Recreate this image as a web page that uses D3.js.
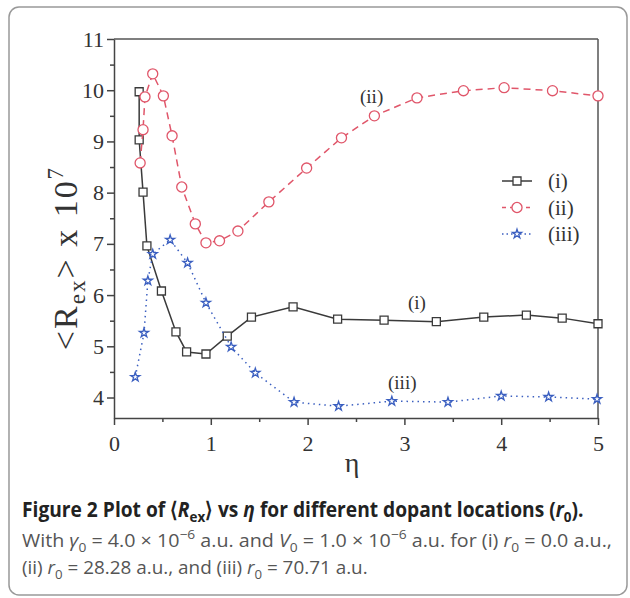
<!DOCTYPE html><html><head><meta charset="UTF-8"><script src="https://d3js.org/d3.v7.min.js"></script><style>
body { margin: 0; background: #fff; }
svg { display: block; }
.axis text { font-family: "Liberation Serif", "DejaVu Serif", serif; font-size: 22px; fill: #333; }
.axis path, .axis line { stroke: #444; stroke-width: 1.5px; }
.serif { font-family: "Liberation Serif", "DejaVu Serif", serif; fill: #333; }
.cap { font-family: "Open Sans", "Noto Sans", sans-serif; }
</style></head><body><div id="chart"></div><script>
// values
const etaI = [0.26, 0.26, 0.30, 0.34, 0.49, 0.64, 0.75, 0.95, 1.17, 1.42, 1.85, 2.31, 2.79, 3.33, 3.82, 4.26, 4.63, 5.0];
const rexI = [9.97, 9.03, 8.01, 6.96, 6.08, 5.28, 4.89, 4.85, 5.20, 5.57, 5.77, 5.53, 5.51, 5.48, 5.57, 5.61, 5.55, 5.44];
const etaII = [0.27, 0.30, 0.32, 0.40, 0.51, 0.60, 0.70, 0.84, 0.95, 1.09, 1.28, 1.60, 1.99, 2.35, 2.69, 3.13, 3.61, 4.03, 4.53, 5.0];
const rexII = [8.58, 9.23, 9.87, 10.32, 9.89, 9.11, 8.11, 7.39, 7.02, 7.06, 7.25, 7.82, 8.48, 9.07, 9.50, 9.85, 9.99, 10.05, 9.99, 9.89];
const etaIII = [0.22, 0.31, 0.35, 0.40, 0.58, 0.76, 0.95, 1.21, 1.46, 1.86, 2.32, 2.87, 3.45, 4.0, 4.49, 4.99];
const rexIII = [4.40, 5.26, 6.28, 6.80, 7.08, 6.63, 5.85, 4.99, 4.48, 3.91, 3.83, 3.93, 3.91, 4.03, 4.01, 3.97];
const seriesNames = ['(i)', '(ii)', '(iii)'];
const xTicks = [0, 1, 2, 3, 4, 5];
const xMinor = [0.5, 1.5, 2.5, 3.5, 4.5];
const yTicks = [4, 5, 6, 7, 8, 9, 10, 11];
const yMinor = [4.5, 5.5, 6.5, 7.5, 8.5, 9.5, 10.5];

const W = 630, H = 598;
const svg = d3.select('#chart').append('svg').attr('width', W).attr('height', H);

// rounded frame round the figure
svg.append('rect')
    .attr('x', 9).attr('y', 7).attr('width', 618).attr('height', 588)
    .attr('rx', 10).attr('fill', '#fff').attr('stroke', '#999').attr('stroke-width', 1.5);

const x = d3.scaleLinear().domain([0, 5]).range([114, 598]);
const y = d3.scaleLinear().domain([3.6, 11]).range([418, 39]);

// frame lines top and right
svg.append('line').attr('x1', x(0)).attr('x2', x(5)).attr('y1', y(11)).attr('y2', y(11))
    .attr('stroke', '#555').attr('stroke-width', 1.5);
svg.append('line').attr('x1', x(5)).attr('x2', x(5)).attr('y1', y(3.6)).attr('y2', y(11))
    .attr('stroke', '#555').attr('stroke-width', 1.5);

svg.append('g').attr('class', 'axis').attr('transform', `translate(0,${y(3.6)})`)
    .call(d3.axisBottom(x).tickValues(xTicks).tickFormat(d3.format('d'))
        .tickSize(7).tickPadding(10).tickSizeOuter(0));
svg.append('g').attr('class', 'axis').attr('transform', `translate(0,${y(3.6)})`)
    .call(d3.axisBottom(x).tickValues(xMinor).tickSize(4).tickFormat('').tickSizeOuter(0))
    .select('.domain').remove();
svg.append('g').attr('class', 'axis').attr('transform', `translate(${x(0)},0)`)
    .call(d3.axisLeft(y).tickValues(yTicks).tickSize(7).tickPadding(3).tickSizeOuter(0));
svg.append('g').attr('class', 'axis').attr('transform', `translate(${x(0)},0)`)
    .call(d3.axisLeft(y).tickValues(yMinor).tickSize(4).tickFormat('').tickSizeOuter(0))
    .select('.domain').remove();

// axis titles
svg.append('text').attr('class', 'serif').attr('x', 352).attr('y', 472)
    .attr('text-anchor', 'middle').style('font-size', '28px').text('η');

const yt = svg.append('text').attr('class', 'serif')
    .attr('transform', 'translate(77,258) rotate(-90)')
    .attr('text-anchor', 'middle').style('font-size', '34px').style('letter-spacing', '2px');
yt.append('tspan').text('<R');
yt.append('tspan').attr('dy', 8).style('font-size', '23px').text('ex');
yt.append('tspan').attr('dy', -8).text('> x 10');
yt.append('tspan').attr('dy', -14).style('font-size', '23px').text('7');

// series
const series = [
    {name: seriesNames[0], xs: etaI, ys: rexI, color: '#3a3a3a', dash: null, sym: d3.symbolSquare, size: 64},
    {name: seriesNames[1], xs: etaII, ys: rexII, color: '#e0566a', dash: '7,5', sym: d3.symbolCircle, size: 80},
    {name: seriesNames[2], xs: etaIII, ys: rexIII, color: '#3b5fc0', dash: '1.5,4', sym: d3.symbolStar, size: 26}
];

const line = d3.line().x(d => x(d[0])).y(d => y(d[1]));

series.forEach(s => {
    const pts = s.xs.map((v, i) => [v, s.ys[i]]);
    svg.append('path').datum(pts).attr('d', line)
        .attr('fill', 'none').attr('stroke', s.color).attr('stroke-width', 1.5)
        .attr('stroke-dasharray', s.dash);
    svg.selectAll(null).data(pts).enter().append('path')
        .attr('d', d3.symbol().type(s.sym).size(s.size))
        .attr('transform', d => `translate(${x(d[0])},${y(d[1])})`)
        .attr('fill', '#fff').attr('stroke', s.color).attr('stroke-width', 1.3);
});

// in-plot labels
svg.append('text').attr('class', 'serif').attr('x', 360).attr('y', 103).style('font-size', '19px').text('(ii)');
svg.append('text').attr('class', 'serif').attr('x', 408).attr('y', 309).style('font-size', '19px').text('(i)');
svg.append('text').attr('class', 'serif').attr('x', 388).attr('y', 389).style('font-size', '19px').text('(iii)');

// legend
const legend = svg.append('g').attr('transform', 'translate(502,181)');
series.forEach((s, i) => {
    const g = legend.append('g').attr('transform', `translate(0,${i * 26.5})`);
    g.append('line').attr('x1', 0).attr('x2', 30).attr('stroke', s.color)
        .attr('stroke-width', 1.5).attr('stroke-dasharray', s.dash ? (i === 1 ? '4,4' : '1.5,3') : null);
    g.append('path').attr('d', d3.symbol().type(s.sym).size(s.size))
        .attr('transform', 'translate(15,0)')
        .attr('fill', '#fff').attr('stroke', s.color).attr('stroke-width', 1.3);
    g.append('text').attr('class', 'serif').attr('x', 46).attr('y', 7)
        .style('font-size', '21px').text(s.name);
});

// caption
function capLine(parts, x0, base, width, opts) {
    const t = svg.append('text').attr('class', 'cap').attr('x', 0).attr('y', 0)
        .style('font-size', opts.size + 'px').style('font-weight', opts.weight)
        .attr('fill', opts.color);
    let shift = 0;
    parts.forEach(p => {
        const target = p.sub ? 5 : p.sup ? -8 : 0;
        const ts = t.append('tspan').attr('dy', target - shift).text(p.t);
        shift = target;
        if (p.it) ts.style('font-style', 'italic');
        if (p.sub || p.sup) ts.style('font-size', (opts.size * 0.7) + 'px');
    });
    const w = t.node().getComputedTextLength();
    t.attr('transform', `translate(${x0},${base}) scale(${width / w},1)`);
}

capLine([
    {t: 'Figure 2 Plot of ⟨'}, {t: 'R', it: true}, {t: 'ex', sub: true}, {t: '⟩ vs '},
    {t: 'η', it: true}, {t: ' for different dopant locations ('}, {t: 'r', it: true},
    {t: '0', sub: true}, {t: ').'}
], 22, 517, 561, {size: 21, weight: 'bold', color: '#222'});

capLine([
    {t: 'With '}, {t: 'γ', it: true}, {t: '0', sub: true}, {t: ' = 4.0 × 10'}, {t: '−6', sup: true},
    {t: ' a.u. and '}, {t: 'V', it: true}, {t: '0', sub: true}, {t: ' = 1.0 × 10'}, {t: '−6', sup: true},
    {t: ' a.u. for (i) '}, {t: 'r', it: true}, {t: '0', sub: true}, {t: ' = 0.0 a.u.,'}
], 22, 547, 590, {size: 18, weight: 'normal', color: '#555'});

capLine([
    {t: '(ii) '}, {t: 'r', it: true}, {t: '0', sub: true}, {t: ' = 28.28 a.u., and (iii) '},
    {t: 'r', it: true}, {t: '0', sub: true}, {t: ' = 70.71 a.u.'}
], 22, 574, 346, {size: 18, weight: 'normal', color: '#555'});
</script></body></html>
